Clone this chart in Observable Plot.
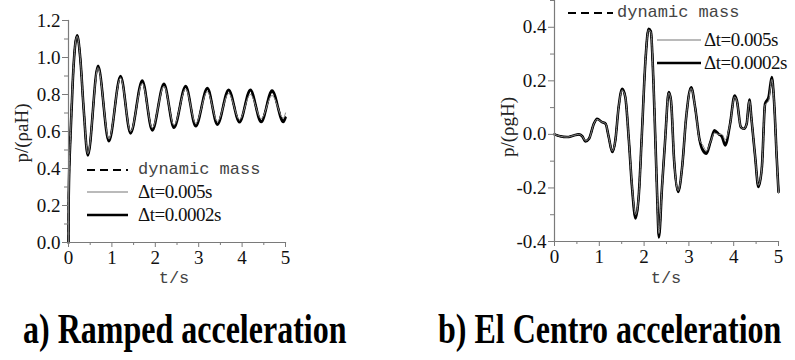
<!DOCTYPE html>
<html><head><meta charset="utf-8">
<script src="https://cdn.jsdelivr.net/npm/d3@7"></script>
<script src="https://cdn.jsdelivr.net/npm/@observablehq/plot@0.6"></script>
<style>
body{margin:0;background:#fff;width:795px;height:360px;overflow:hidden;position:relative;font-family:"Liberation Serif","Times New Roman",Times,"DejaVu Serif",serif;}
.abs{position:absolute;white-space:nowrap;line-height:1;}
.plot{position:absolute;top:0;}
.plot text{font-family:"Liberation Serif","Times New Roman",Times,"DejaVu Serif",serif;}
.ylab{font-size:19px;color:#222;transform:translate(-50%,-50%) rotate(-90deg);}
.xlab{font-family:"Liberation Mono","DejaVu Sans Mono",monospace;font-size:17px;color:#444;transform:translateX(-50%);}
.title{font-weight:bold;font-size:32px;color:#000;transform-origin:left top;transform:scale(1,1.3);}
.legtxt{font-size:19px;color:#111;letter-spacing:-0.5px;}
.legmono{font-family:"Liberation Mono","DejaVu Sans Mono",monospace;font-size:17px;color:#444;letter-spacing:0px;}
</style>
</head><body>
<script>
// ---------- data ----------
const xTicks = [0, 1, 2, 3, 4, 5];
const xMinor = [0.5, 1.5, 2.5, 3.5, 4.5];
const yTicksA = [0, 0.2, 0.4, 0.6, 0.8, 1.0, 1.2];
const yMinorA = [0.1, 0.3, 0.5, 0.7, 0.9, 1.1];
const yTicksB = [-0.4, -0.2, 0, 0.2, 0.4];
const yMinorB = [-0.3, -0.1, 0.1, 0.3, 0.5];
const seriesNames = ["dynamic mass", "Δt=0.005s", "Δt=0.0002s"];
const titles = ["a) Ramped acceleration", "b) El Centro acceleration"];
const yLabels = ["p/(ρaH)", "p/(ρgH)"];
const xLabel = "t/s";

// a) Ramped acceleration
const tA =      [0, 0.005, 0.05, 0.1, 0.15, 0.2, 0.27, 0.35, 0.445, 0.68, 0.93, 1.2, 1.43, 1.7, 1.93, 2.2, 2.43, 2.7, 2.93, 3.2, 3.43, 3.69, 3.94, 4.19, 4.44, 4.69, 4.95, 5.0];
const pA_dm =   [0, 0.25, 0.6, 0.88, 1.06, 1.12, 1.0, 0.72, 0.475, 0.95, 0.552, 0.895, 0.595, 0.87, 0.612, 0.852, 0.625, 0.84, 0.633, 0.83, 0.642, 0.82, 0.655, 0.818, 0.658, 0.815, 0.66, 0.68];
const pA_005 =  [0, 0.25, 0.6, 0.88, 1.06, 1.115, 1.0, 0.72, 0.48, 0.945, 0.56, 0.89, 0.60, 0.86, 0.62, 0.845, 0.635, 0.83, 0.645, 0.815, 0.655, 0.805, 0.665, 0.80, 0.67, 0.795, 0.672, 0.70];
const pA_0002 = [0, 0.25, 0.6, 0.88, 1.06, 1.12, 1.0, 0.72, 0.47, 0.955, 0.547, 0.90, 0.59, 0.876, 0.606, 0.858, 0.62, 0.846, 0.628, 0.835, 0.637, 0.826, 0.65, 0.826, 0.651, 0.822, 0.651, 0.675];

// b) El Centro acceleration
const tB = [0, 0.13, 0.28, 0.43, 0.54, 0.62, 0.69, 0.77, 0.88, 0.95, 1.06, 1.14, 1.21, 1.29, 1.36, 1.43, 1.51, 1.58, 1.66, 1.73, 1.81, 1.88, 1.95, 2.03, 2.10, 2.15, 2.21, 2.29, 2.33, 2.40, 2.47, 2.55, 2.60, 2.67, 2.76, 2.85, 2.94, 3.05, 3.14, 3.24, 3.31, 3.39, 3.48, 3.57, 3.66, 3.74, 3.81, 3.92, 4.02, 4.07, 4.16, 4.23, 4.29, 4.35, 4.40, 4.48, 4.55, 4.63, 4.70, 4.78, 4.85, 4.90, 4.96, 5.0];
const pB_dm =   [0, -0.007, -0.01, -0.004, 0.0, -0.007, -0.025, -0.016, 0.04, 0.057, 0.046, 0.04, -0.01, -0.064, -0.02, 0.10, 0.168, 0.14, -0.022, -0.195, -0.31, -0.23, 0.0, 0.276, 0.392, 0.385, 0.19, -0.22, -0.38, -0.196, -0.02, 0.156, 0.127, -0.097, -0.212, -0.12, 0.065, 0.175, 0.10, -0.022, -0.055, -0.068, -0.029, 0.01, 0.0, -0.006, -0.035, 0.04, 0.143, 0.127, 0.027, 0.021, 0.04, 0.128, 0.052, -0.085, -0.192, -0.12, 0.114, 0.135, 0.21, 0.127, -0.085, -0.21];
const pB_005 =  [0, -0.007, -0.01, -0.004, 0.0, -0.007, -0.024, -0.016, 0.04, 0.056, 0.046, 0.04, -0.01, -0.062, -0.02, 0.10, 0.165, 0.14, -0.022, -0.19, -0.30, -0.23, 0.0, 0.276, 0.39, 0.383, 0.19, -0.22, -0.37, -0.196, -0.02, 0.155, 0.127, -0.097, -0.21, -0.12, 0.065, 0.172, 0.10, -0.022, -0.04, -0.062, -0.029, 0.005, 0.0, 0.0, -0.02, 0.04, 0.14, 0.125, 0.027, 0.021, 0.04, 0.125, 0.052, -0.085, -0.19, -0.12, 0.11, 0.125, 0.205, 0.127, -0.085, -0.22];
const pB_0002 = [0, -0.007, -0.01, -0.004, 0.0, -0.007, -0.026, -0.016, 0.04, 0.058, 0.046, 0.04, -0.01, -0.066, -0.02, 0.10, 0.17, 0.14, -0.022, -0.196, -0.314, -0.23, 0.0, 0.276, 0.394, 0.385, 0.19, -0.22, -0.385, -0.196, -0.02, 0.158, 0.127, -0.097, -0.215, -0.12, 0.065, 0.176, 0.10, -0.022, -0.06, -0.072, -0.029, 0.015, 0.002, -0.01, -0.041, 0.04, 0.145, 0.127, 0.027, 0.021, 0.04, 0.13, 0.052, -0.085, -0.196, -0.12, 0.114, 0.14, 0.214, 0.127, -0.085, -0.215];

// ---------- helpers ----------
const rows = (t, p) => t.map((v, i) => ({t: v, p: p[i]}));
const fmt = d => d.toFixed(1);
const axisColor = "#7a7a7a";
const serif = '"Liberation Serif","Times New Roman",Times,"DejaVu Serif",serif';

function panel({t, dm, s005, s0002, yDomain, yTicks, yMinor, width, height, mL, mR, mT, mB}) {
  return Plot.plot({
    width, height,
    marginLeft: mL, marginRight: mR, marginTop: mT, marginBottom: mB,
    style: {fontFamily: serif, fontSize: "19px", color: "#111", background: "transparent", overflow: "visible"},
    x: {domain: [0, 5]},
    y: {domain: yDomain},
    marks: [
      Plot.line(rows(t, dm), {x: "t", y: "p", curve: "monotone-x", stroke: "#000", strokeWidth: 1.8, strokeDasharray: "7,4"}),
      Plot.line(rows(t, s0002), {x: "t", y: "p", curve: "monotone-x", stroke: "#000", strokeWidth: 2.6}),
      Plot.line(rows(t, s005), {x: "t", y: "p", curve: "monotone-x", stroke: "#888", strokeWidth: 1}),
      Plot.frame({anchor: "left", stroke: axisColor, strokeWidth: 1.2}),
      Plot.frame({anchor: "bottom", stroke: axisColor, strokeWidth: 1.2}),
      Plot.axisY(yTicks, {tickSize: 6, tickPadding: 2, tickFormat: fmt, stroke: axisColor, fill: "#111", label: null, fontFamily: serif}),
      Plot.axisY(yMinor, {tickSize: 4, tickFormat: () => "", stroke: axisColor, label: null}),
      Plot.axisX(xTicks, {tickSize: 5, tickPadding: 3, tickFormat: d => String(d), stroke: axisColor, fill: "#111", label: null, fontFamily: serif}),
      Plot.axisX(xMinor, {tickSize: 3, tickFormat: () => "", stroke: axisColor, label: null})
    ]
  });
}

function place(el, left, top) {
  el.classList.add("plot");
  el.style.left = left + "px";
  el.style.top = top + "px";
  document.body.appendChild(el);
}
function text(cls, str, left, top) {
  const d = document.createElement("div");
  d.className = "abs " + cls;
  d.textContent = str;
  d.style.left = left + "px";
  d.style.top = top + "px";
  document.body.appendChild(d);
  return d;
}
function sample(left, top, w, style) {
  const ns = "http://www.w3.org/2000/svg";
  const s = document.createElementNS(ns, "svg");
  s.setAttribute("width", w); s.setAttribute("height", 6);
  s.style.position = "absolute"; s.style.left = left + "px"; s.style.top = (top - 3) + "px";
  const l = document.createElementNS(ns, "line");
  l.setAttribute("x1", 0); l.setAttribute("x2", w); l.setAttribute("y1", 3); l.setAttribute("y2", 3);
  for (const k in style) l.setAttribute(k, style[k]);
  s.appendChild(l);
  document.body.appendChild(s);
}
const legendStyles = [
  {stroke: "#000", "stroke-width": 2, "stroke-dasharray": "8,5"},
  {stroke: "#777", "stroke-width": 1.2},
  {stroke: "#000", "stroke-width": 2.6}
];

// ---------- panel a ----------
place(panel({t: tA, dm: pA_dm, s005: pA_005, s0002: pA_0002, yDomain: [0, 1.2], yTicks: yTicksA, yMinor: yMinorA,
  width: 300, height: 290, mL: 68, mR: 15, mT: 20, mB: 48}), 0, 0);
// ---------- panel b ----------
place(panel({t: tB, dm: pB_dm, s005: pB_005, s0002: pB_0002, yDomain: [-0.4, 0.5], yTicks: yTicksB, yMinor: yMinorB,
  width: 315, height: 290, mL: 74, mR: 17, mT: 0, mB: 49}), 480, 0);

// axis labels
text("ylab", yLabels[0], 21, 133);
text("ylab", yLabels[1], 507, 127);
text("xlab", xLabel, 174, 270);
text("xlab", xLabel, 666, 270);

// legend a
sample(87, 170, 41, legendStyles[0]); text("legmono", seriesNames[0], 138, 161);
sample(87, 192, 41, legendStyles[1]); text("legtxt", seriesNames[1], 138, 182);
sample(87, 215, 41, legendStyles[2]); text("legtxt", seriesNames[2], 138, 205);
// legend b
sample(568, 13, 45, legendStyles[0]); text("legmono", seriesNames[0], 617, 4);
sample(657, 40, 44, legendStyles[1]); text("legtxt", seriesNames[1], 704, 30);
sample(657, 63, 44, legendStyles[2]); text("legtxt", seriesNames[2], 704, 53);

// titles
text("title", titles[0], 23, 308);
text("title", titles[1], 438, 308);
</script>
</body></html>
